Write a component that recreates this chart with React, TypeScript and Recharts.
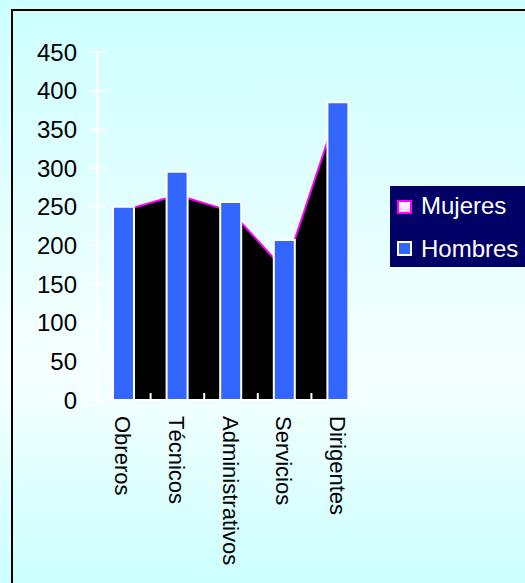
import { ComposedChart, Area, Bar, XAxis, YAxis } from "recharts"

const categories = ["Obreros", "Técnicos", "Administrativos", "Servicios", "Dirigentes"]
const mujeres = [245, 265, 244, 168, 376]
const hombres = [250, 295, 256, 207, 385]
const yTicks = [0, 50, 100, 150, 200, 250, 300, 350, 400, 450]

const data = categories.map((name, i) => ({
  name,
  Mujeres: mujeres[i],
  Hombres: hombres[i],
}))

const FONT = '"Liberation Sans", Arial, sans-serif'
const W = 525
const H = 583
// plot box (page pixels)
const PLOT_LEFT = 97
const PLOT_RIGHT = 365
const PLOT_TOP = 52
const PLOT_BOTTOM = 400
const Y_AXIS_W = 60
const X_AXIS_H = 160
const BAND = (PLOT_RIGHT - PLOT_LEFT) / categories.length

function YTick(props: any) {
  const { x, y, payload } = props
  return (
    <g>
      <line x1={x - 8} x2={x + 9} y1={y} y2={y} stroke="#fff" strokeWidth={2} />
      {payload.value === 0 && (
        <line x1={x} x2={x} y1={y} y2={y + 6} stroke="#fff" strokeWidth={2} />
      )}
      <text
        x={x - 20}
        y={y}
        dy="0.36em"
        textAnchor="end"
        fontSize={24}
        fontFamily={FONT}
        fill="#000"
      >
        {payload.value}
      </text>
    </g>
  )
}

function XTick(props: any) {
  const { x, y, payload, index } = props
  const bx = x + BAND / 2
  const last = index === categories.length - 1
  return (
    <g>
      <line
        x1={bx}
        x2={bx}
        y1={y - 7}
        y2={last ? y + 5 : y}
        stroke="#fff"
        strokeWidth={2}
      />
      <text
        transform={`translate(${x - 1},${y + 16}) rotate(90)`}
        textAnchor="start"
        dominantBaseline="central"
        fontSize={22}
        fontFamily={FONT}
        fill="#000"
      >
        {payload.value}
      </text>
    </g>
  )
}

function LegendBox() {
  return (
    <svg
      width={140}
      height={81}
      style={{ position: "absolute", left: 390, top: 186, display: "block" }}
    >
      <defs>
        <linearGradient id="mujSw" x1="0" y1="0" x2="0" y2="1">
          <stop offset="0%" stopColor="#ffffff" />
          <stop offset="100%" stopColor="#ffccff" />
        </linearGradient>
      </defs>
      <rect x={0} y={0} width={140} height={81} fill="#000066" />
      <rect x={8} y={15} width={13} height={12} fill="url(#mujSw)" stroke="#ff00ff" strokeWidth={2} />
      <text x={31} y={28} fontSize={24} fontFamily={FONT} fill="#fff">
        Mujeres
      </text>
      <rect x={8} y={56} width={13} height={13} fill="#3366ff" stroke="#fff" strokeWidth={2} />
      <text x={31} y={71} fontSize={24} fontFamily={FONT} fill="#fff">
        Hombres
      </text>
    </svg>
  )
}

export default function App() {
  return (
    <div
      style={{
        position: "fixed",
        left: 0,
        top: 0,
        width: W,
        height: H,
        overflow: "hidden",
        background: "linear-gradient(to bottom, #ccffff 0%, #f6ffff 64%, #ccffff 100%)",
      }}
    >
      <div
        style={{
          position: "absolute",
          left: 11,
          top: 9,
          width: W,
          height: H,
          border: "2px solid #000",
          boxSizing: "border-box",
        }}
      />
      <div style={{ position: "absolute", left: 0, top: 0 }}>
        <ComposedChart
          width={W}
          height={H}
          data={data}
          margin={{
            top: PLOT_TOP,
            left: PLOT_LEFT - Y_AXIS_W,
            right: W - PLOT_RIGHT,
            bottom: H - PLOT_BOTTOM - X_AXIS_H,
          }}
        >
          <XAxis
            dataKey="name"
            height={X_AXIS_H}
            interval={0}
            tickSize={0}
            tickMargin={0}
            tickLine={false}
            axisLine={{ stroke: "#fff", strokeWidth: 2 }}
            tick={<XTick />}
          />
          <YAxis
            width={Y_AXIS_W}
            domain={[0, 450]}
            ticks={yTicks}
            interval={0}
            tickSize={0}
            tickMargin={0}
            tickLine={false}
            axisLine={{ stroke: "#fff", strokeWidth: 2 }}
            tick={<YTick />}
          />
          <Area
            type="linear"
            dataKey="Mujeres"
            fill="#000000"
            fillOpacity={1}
            stroke="#ff00ff"
            strokeWidth={2}
            isAnimationActive={false}
          />
          <Bar
            dataKey="Hombres"
            fill="#3366ff"
            stroke="#ffffff"
            strokeWidth={2}
            barSize={21}
            isAnimationActive={false}
          />
        </ComposedChart>
      </div>
      <LegendBox />
    </div>
  )
}
